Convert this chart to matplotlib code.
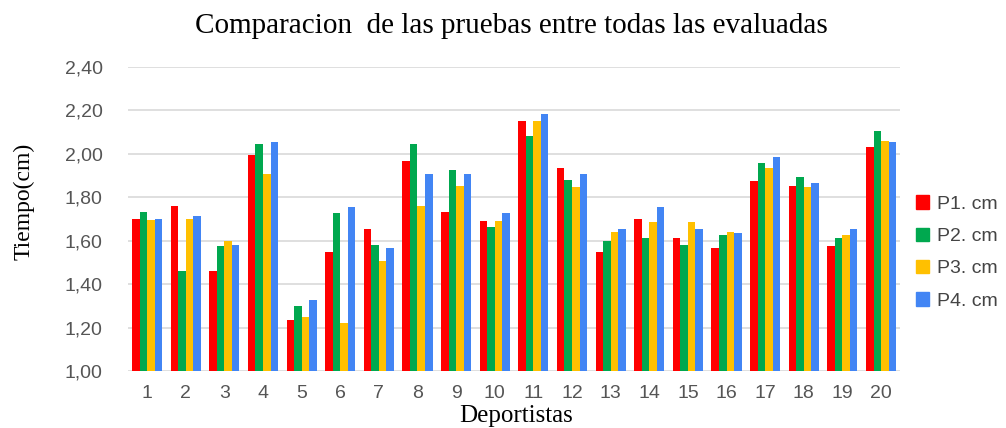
import matplotlib.pyplot as plt
import numpy as np
from matplotlib.ticker import FuncFormatter
from matplotlib.patches import Patch

deportistas = [str(i) for i in range(1, 21)]
p1 = [1.70, 1.76, 1.46, 1.995, 1.235, 1.55, 1.655, 1.965, 1.73, 1.69,
      2.15, 1.935, 1.55, 1.70, 1.61, 1.565, 1.875, 1.85, 1.575, 2.03]
p2 = [1.73, 1.46, 1.575, 2.045, 1.30, 1.725, 1.58, 2.045, 1.925, 1.665,
      2.08, 1.88, 1.60, 1.61, 1.58, 1.625, 1.955, 1.895, 1.61, 2.105]
p3 = [1.695, 1.70, 1.60, 1.905, 1.25, 1.22, 1.505, 1.76, 1.85, 1.69,
      2.15, 1.845, 1.64, 1.685, 1.685, 1.64, 1.935, 1.845, 1.625, 2.06]
p4 = [1.70, 1.715, 1.58, 2.055, 1.325, 1.755, 1.565, 1.905, 1.905, 1.725,
      2.185, 1.905, 1.655, 1.755, 1.655, 1.635, 1.985, 1.865, 1.655, 2.055]
series = ["P1. cm", "P2. cm", "P3. cm", "P4. cm"]
colors = ["#ff0000", "#00a84f", "#ffc000", "#4285f4"]

fig = plt.figure(figsize=(10.06, 4.28), dpi=100)
ax = fig.add_axes([0.127, 0.133, 0.768, 0.711])

x = np.arange(len(deportistas))
w = 0.195
base = 1.0
for i, vals in enumerate([p1, p2, p3, p4]):
    v = np.array(vals)
    ax.bar(x + (i - 1.5) * w, v - base, w, bottom=base, color=colors[i],
           label=series[i], zorder=3)

ax.set_xlim(-0.5, len(deportistas) - 0.5)
ax.set_ylim(1.0, 2.4)
ax.set_yticks(np.arange(1.0, 2.41, 0.2))
ax.yaxis.set_major_formatter(FuncFormatter(lambda v, p: f"{v:.2f}".replace(".", ",")))
ax.set_xticks(x)
ax.set_xticklabels(deportistas)
ax.grid(axis="y", color="#d9d9d9", linewidth=1.2, zorder=0)
for s in ax.spines.values():
    s.set_visible(False)
ax.tick_params(length=0, labelsize=14, labelcolor="#555555")
for t in ax.get_xticklabels() + ax.get_yticklabels():
    t.set_family("Liberation Sans")
ax.tick_params(axis="x", pad=10)
ax.tick_params(axis="y", pad=18)

fig.text(0.513, 0.028, "Deportistas", family="Liberation Serif", fontsize=18,
         ha="center", va="center")
fig.text(0.024, 0.53, "Tiempo(cm)", family="Liberation Serif", fontsize=17,
         ha="center", va="center", rotation=90)
fig.text(0.508, 0.94, "Comparacion  de las pruebas entre todas las evaluadas",
         family="Liberation Serif", fontsize=21, ha="center", va="center")

handles = [Patch(color=c) for c in colors]
fig.legend(handles, series, loc="center left", bbox_to_anchor=(0.893, 0.41),
           frameon=False, handlelength=0.7, handleheight=0.7, handletextpad=0.4,
           labelspacing=0.75, prop={"family": "Liberation Sans", "size": 14},
           labelcolor="#444444")

fig.savefig("out.png", dpi=100)
